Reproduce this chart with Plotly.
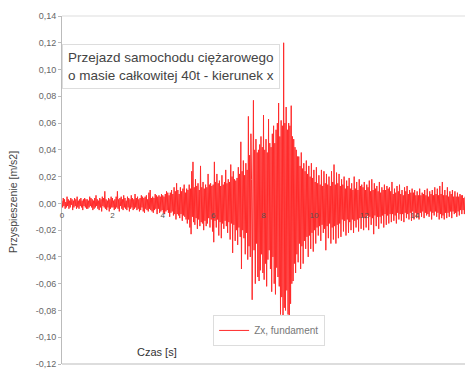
import plotly.graph_objects as go

# Sampling interval of the recorded signal [s]
dt = 0.025

# Acceleration samples in units of 0.001 m/s2, 40 per second
s0 = [2,-3,4,-2,3,-4,1,-3,5,-2,3,-4,2,-3,4,-1,3,-5,2,-3,4,-2,3,-4,5,-3,2,-4,3,-2,4,-3,2,-5,3,-2,4,-3,3,-4]
s1 = [3,-4,2,-3,5,-2,4,-3,3,-5,2,-4,4,-3,6,-2,3,-4,2,-5,4,-3,3,-6,5,-2,4,-3,9,-4,3,-5,2,-3,4,-6,3,-4,5,-3]
s2 = [4,-3,2,-5,3,-4,5,-3,9,-4,3,-6,4,-2,5,-4,3,-5,6,-3,4,-4,2,-5,5,-3,4,-6,3,-4,6,-3,4,-5,3,-4,7,-3,4,-5]
s3 = [5,-4,3,-6,4,-5,6,-3,5,-6,4,-7,5,-4,6,-5,3,-6,8,-4,10,-5,4,-6,5,-7,4,-5,7,-4,6,-8,5,-4,6,-7,5,-6,7,-5]
s4 = [6,-7,5,-8,7,-6,9,-5,8,-7,6,-10,8,-7,10,-6,7,-9,12,-8,9,-12,15,-8,10,-9,7,-11,12,-8,9,-13,11,-9,14,-10,8,-12,11,-15]
s5 = [10,-12,14,-18,11,-23,24,-10,31,-14,12,-16,18,-11,13,-19,15,-12,10,-17,28,-14,12,-15,16,-20,11,-13,14,-17,12,-15,22,-11,14,-18,15,-12,13,-21]
s6 = [14,-29,31,-13,16,-18,22,-12,15,-24,17,-14,13,-26,21,-15,14,-19,16,-13,25,-17,15,-22,18,-14,16,-27,29,-15,20,-37,24,-16,18,-28,17,-20,19,-31]
s7 = [27,-18,22,-25,46,-49,24,-20,32,-26,21,-38,30,-22,25,-42,65,-32,36,-40,52,18,-72,40,77,-35,40,-60,48,-30,38,-55,40,-58,44,-50,50,-38,42,-52]
s8 = [66,-57,40,-45,48,-62,38,-42,63,-35,45,-49,42,-66,52,-40,58,-60,45,-68,55,-48,60,-55,75,-62,50,-83,62,-70,58,-85,120,-78,60,-80,72,-65,55,-83]
s9 = [60,-84,58,-75,73,-60,50,-58,48,-45,42,-52,40,-38,35,-44,35,-30,28,-49,38,-32,26,-45,30,-28,24,-34,32,-25,22,-40,28,-24,20,-34,30,-22,19,-36]
s10 = [25,-20,16,-30,27,-18,15,-24,21,-17,14,-28,25,-16,13,-22,24,-19,15,-35,22,-17,14,-26,20,-15,13,-30,24,-18,16,-27,29,-17,14,-30,23,-16,15,-26]
s11 = [22,-15,13,-25,18,-12,14,-21,20,-13,11,-24,17,-12,13,-22,19,-14,11,-20,15,-12,10,-22,20,-13,11,-18,16,-12,10,-21,18,-11,13,-19,14,-10,12,-20]
s12 = [16,-11,10,-18,14,-9,12,-20,17,-10,9,-16,18,-11,10,-23,15,-9,11,-17,13,-10,9,-19,16,-10,8,-15,12,-9,10,-18,14,-8,10,-16,13,-9,11,-15]
s13 = [12,-8,9,-14,16,-8,7,-13,11,-9,8,-15,13,-7,9,-12,14,-8,7,-13,10,-8,6,-14,12,-7,9,-11,13,-8,7,-12,10,-7,8,-13,11,-6,8,-12]
s14 = [10,-7,6,-11,9,-8,6,-12,11,-7,6,-10,8,-6,7,-11,10,-7,6,-9,11,-8,5,-10,9,-6,7,-12,10,-7,6,-9,12,-6,7,-10,11,-7,6,-12]
s15 = [13,-8,7,-11,16,-9,6,-12,10,-7,6,-11,12,-7,5,-10,9,-6,7,-11,10,-6,5,-8,9,-7,5,-10,8,-6,5,-9,7,-5,6,-8,6,-5,4,-8]
s_end = [5]

accel_milli = s0+s1+s2+s3+s4+s5+s6+s7+s8+s9+s10+s11+s12+s13+s14+s15+s_end
accel = [v / 1000.0 for v in accel_milli]          # m/s2
time = [i * dt for i in range(len(accel))]          # s

x_ticks = [0, 2, 4, 6, 8, 10, 12, 14, 16]
y_ticks = [0.14, 0.12, 0.10, 0.08, 0.06, 0.04, 0.02, 0.00, -0.02, -0.04, -0.06, -0.08, -0.10, -0.12]
y_tick_labels = ["0,14", "0,12", "0,10", "0,08", "0,06", "0,04", "0,02", "0,00",
                 "-0,02", "-0,04", "-0,06", "-0,08", "-0,10", "-0,12"]

series_name = "Zx, fundament"
title_text = "Przejazd samochodu ciężarowego<br>o masie całkowitej 40t - kierunek x"
x_title = "Czas [s]"
y_title = "Przyspieszenie [m/s2]"

font = "Liberation Sans, Arial, sans-serif"
ymin, ymax = -0.12, 0.14

fig = go.Figure()
fig.add_trace(go.Scatter(x=time, y=accel, mode="lines", name=series_name,
                         line=dict(color="#ff2a2a", width=1)))

fig.update_layout(
    width=467, height=373,
    margin=dict(l=62, r=2, t=16, b=9),
    paper_bgcolor="white", plot_bgcolor="white",
    font=dict(family=font, color="#555", size=9),
    showlegend=True,
    legend=dict(x=0.375, y=0.141, xanchor="left", yanchor="top",
                bgcolor="white", bordercolor="#ddd", borderwidth=1,
                font=dict(size=10, color="#777"),
                itemwidth=30),
    xaxis=dict(range=[0, 16], tickvals=x_ticks, ticktext=[str(v) for v in x_ticks],
               anchor="free", position=(0 - ymin) / (ymax - ymin),
               showgrid=False, zeroline=False, showline=False,
               ticks="outside", ticklen=4, tickcolor="rgba(0,0,0,0)",
               tickfont=dict(size=8, color="#555")),
    yaxis=dict(range=[ymin, ymax], tickvals=y_ticks, ticktext=y_tick_labels,
               showgrid=False, zeroline=False, showline=True, linecolor="#bbb",
               linewidth=1, ticks="outside", ticklen=3, tickcolor="#bbb",
               tickfont=dict(size=9, color="#666")),
    shapes=[
        dict(type="line", xref="paper", yref="paper", x0=0, x1=1, y0=0, y1=0,
             line=dict(color="#bbb", width=1)),
        dict(type="line", xref="paper", yref="paper", x0=0, x1=1, y0=1, y1=1,
             line=dict(color="#ddd", width=1)),
    ],
    annotations=[
        dict(text=title_text, xref="paper", yref="paper", x=0.0, y=0.92,
             xanchor="left", yanchor="top", align="left", showarrow=False,
             font=dict(size=13.5, color="#444", family=font),
             bgcolor="white", bordercolor="#ddd", borderwidth=1, borderpad=5),
        dict(text=x_title, xref="paper", yref="paper", x=0.235, y=0.012,
             xanchor="center", yanchor="bottom", showarrow=False,
             font=dict(size=11, color="#333", family=font)),
        dict(text=y_title, xref="paper", yref="paper", x=-0.122, y=0.465,
             xanchor="center", yanchor="middle", textangle=-90, showarrow=False,
             font=dict(size=10.5, color="#444", family=font)),
    ],
)

fig.write_html("out.html",
               config={"displayModeBar": False},
               post_script="document.body.style.margin='0px';document.body.style.overflow='hidden';")
